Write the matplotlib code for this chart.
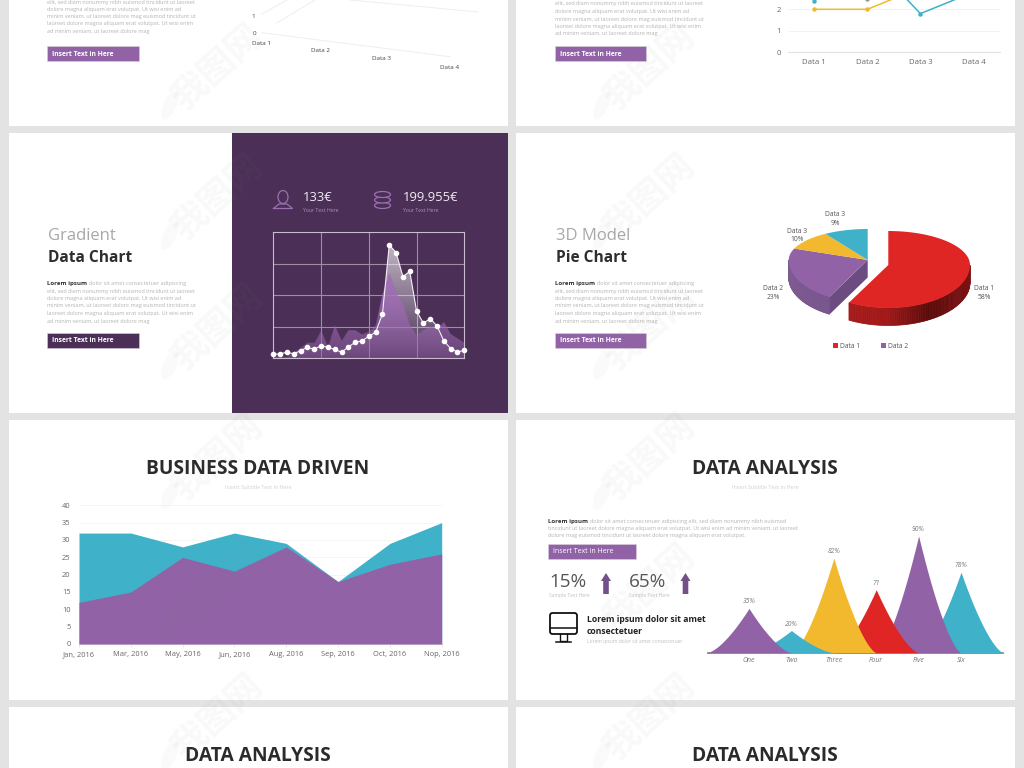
import matplotlib
matplotlib.use("Agg")
import matplotlib.pyplot as plt
import numpy as np
from matplotlib.colors import LinearSegmentedColormap, to_rgb
from matplotlib.patches import Ellipse, FancyBboxPatch, Polygon, Rectangle

plt.rcParams["font.family"] = ["Open Sans", "DejaVu Sans"]

PURPLE = "#9163a6"
TEAL = "#3fb1c9"
YELLOW = "#f2b92e"
RED = "#e02525"
DARK = "#4b2f56"
BODY = "#b4b4b4"

# area chart
area_months = ["Jan, 2016", "Mar, 2016", "May, 2016", "Jun, 2016",
               "Aug, 2016", "Sep, 2016", "Oct, 2016", "Nop, 2016"]
area_teal = [32, 32, 28, 32, 29, 18, 29, 35]
area_purple = [12, 15, 25, 21, 28, 18, 23, 26]

# gradient chart, 0-100 on the frame height
grad_white = [3.4, 3.4, 5, 3.4, 6.1, 8.7, 7.1, 10, 8.7, 7.1, 4.8, 9, 12.7, 13.8,
              17.5, 20.6, 35.2, 90, 83.9, 64.8, 69, 37.6, 27.8, 31.5, 25.7,
              13.8, 7.7, 5, 6.3]
grad_purple = [6.6, 1.3, 1.3, 5.3, 8.7, 12.7, 12.4, 22, 9.3, 26.2, 14, 22.5, 22.5,
               19, 21.2, 26.2, 51, 67.5, 51.6, 43.7, 26.5, 18.5, 22.5, 25, 23.8,
               28.8, 19.3, 15.9, 12.4]

# pie chart
pie_values = [58, 23, 10, 9]
pie_colors = [RED, PURPLE, YELLOW, TEAL]

# top right line chart
line_cats = ["Data 1", "Data 2", "Data 3", "Data 4"]
line_purple = [4.3, 2.5, 3.5, 4.5]
line_teal = [2.4, 4.4, 1.8, 2.8]
line_yellow = [2, 2, 3, 5]

# peak chart
peak_cats = ["One", "Two", "Three", "Four", "Five", "Six"]
peak_labels = ["35%", "20%", "82%", "71", "90%", "78%"]
peak_heights = [38, 19, 81, 54, 100, 69]
peak_colors = [PURPLE, TEAL, YELLOW, RED, PURPLE, TEAL]

LOREM_FIRST = "dolor sit amet consectetuer adipiscing"
LOREM_LINES = ["elit, sed diam nonummy nibh euismod tincidunt ut laoreet",
               "dolore magna aliquam erat volutpat. Ut wisi enim ad",
               "minim veniam, ut laoreet dolore mag euismod tincidunt ut",
               "laoreet dolore magna aliquam erat volutpat. Ut wisi enim",
               "ad minim veniam, ut laoreet dolore mag"]

fig = plt.figure(figsize=(10.24, 7.68), dpi=100, facecolor="#e3e3e3")
bg = fig.add_axes([0, 0, 1, 1])
bg.set_xlim(0, 1024)
bg.set_ylim(768, 0)
bg.axis("off")


def px_axes(x0, y0, x1, y1):
    ax = fig.add_axes([x0 / 1024, 1 - y1 / 768, (x1 - x0) / 1024, (y1 - y0) / 768])
    ax.patch.set_alpha(0)
    return ax


def label(x, y, s, size=5, color="#555555", ha="left", weight="normal", style="normal", ax=bg):
    # +1: open sans sits a bit high with va=center
    ax.text(x, y + 1, s, fontsize=size, color=color, ha=ha, va="center",
            fontweight=weight, fontstyle=style)


def panel(x0, y0, x1, y1, color="white"):
    bg.add_patch(Rectangle((x0, y0), x1 - x0, y1 - y0, fc=color, ec="none", zorder=0))


def button(x, y, w, text, color=PURPLE, weight="bold", size=4.9):
    bg.add_patch(Rectangle((x, y), w, 15, fc=color, ec="#d8d0dc", lw=0.4))
    label(x + 5, y + 7, text, size=size, color="white", weight=weight)


def gradient_fill(ax, xs, ys, color, top_alpha, bottom_alpha, y_top):
    rgb = to_rgb(color)
    img = np.zeros((128, 2, 4))
    img[..., :3] = rgb
    img[..., 3] = np.linspace(top_alpha, bottom_alpha, 128)[:, None]
    im = ax.imshow(img, extent=(min(xs), max(xs), 0, y_top), aspect="auto", origin="upper", zorder=2)
    poly = Polygon(list(zip(xs, ys)) + [(xs[-1], 0), (xs[0], 0)], closed=True,
                   transform=ax.transData, fc="none", ec="none")
    ax.add_patch(poly)
    im.set_clip_path(poly)


for (x0, x1) in [(9, 508), (516, 1015)]:
    for (y0, y1) in [(-5, 126), (133, 413), (420, 700), (707, 775)]:
        panel(x0, y0, x1, y1)
panel(232, 133, 508, 413, DARK)

# ---- slide text columns
for col, ys in [(47, [1.5, 8, 15.5, 22.5, 30]), (555, [3, 10.5, 18, 25.5, 33])]:
    for y, line in zip(ys, LOREM_LINES):
        label(col, y, line, size=4.0, color=BODY)
    button(col, 46, 92 if col == 47 else 91, "Insert Text in Here")

for col, head, sub, btn in [(48, "Gradient", "Data Chart", DARK), (556, "3D Model", "Pie Chart", PURPLE)]:
    label(col, 235, head, size=12, color="#a8a8a8")
    label(col, 257, sub, size=11.2, color="#2e2e2e", weight="bold")
    label(col - 1, 282, "Lorem ipsum", size=4.4, color="#333333", weight="bold")
    label(col + 41, 282, LOREM_FIRST, size=4.0, color=BODY)
    for y, line in zip([290, 297.5, 305, 312.5, 320], LOREM_LINES):
        label(col - 1, y, line, size=4.0, color=BODY)
    button(col - 1, 333, 92 if col == 48 else 91, "Insert Text in Here", color=btn)

# ---- top left, skewed 3d axis
for xs, ys in [((262, 450), (32.7, 56.7)), ((262, 287), (14, 0)), ((277, 315), (23, 0)), ((350, 478), (0, 12))]:
    bg.plot(xs, ys, color="#eeeeee", lw=0.7)
label(254, 32.5, "0", size=4.5, ha="center", color="#444444")
label(253, 15, "1", size=4.5, ha="center", color="#444444")
for x, y, s in zip([262, 320, 382, 450], [42.5, 50, 58, 66.5], line_cats):
    label(x, y, s, size=4.5, ha="center", color="#444444")

# ---- top right line chart
ax = px_axes(787.7, 0, 1000, 52.3)
ax.set_xlim(-0.5, 3.5)
ax.set_ylim(0, 52.3 / 21.5)
for vals, color in [(line_purple, "#999999"), (line_yellow, YELLOW), (line_teal, TEAL)]:
    ax.plot(range(4), vals, color=color, lw=1.1, marker="o", ms=2.2)
ax.set_xticks(range(4), line_cats)
ax.set_yticks([0, 1, 2])
ax.tick_params(length=0, labelsize=5.6, labelcolor="#666666", pad=5)
ax.grid(axis="y", color="#f1f1f1", lw=0.6)
ax.set_axisbelow(True)
for side in ["top", "left", "right"]:
    ax.spines[side].set_visible(False)
ax.spines["bottom"].set_color("#e2e2e2")

# ---- gradient chart
label(303, 196.5, "133€", size=9.4, color="#f0ecf2")
label(403, 196.5, "199.955€", size=9.4, color="#f0ecf2")
label(303, 209, "Your Text Here", size=3.7, color="#a696ae")
label(403, 209, "Your Text Here", size=3.7, color="#a696ae")
bg.add_patch(Ellipse((283, 197), 10, 13, fc="none", ec="#9c6fb0", lw=0.9))
bg.plot([273.5, 279, 287, 292.5, 273.5], [208.5, 204, 204, 208.5, 208.5], color="#9c6fb0", lw=0.9)
for y in [205.5, 200, 194.5]:
    bg.add_patch(Ellipse((382.5, y), 16, 6, fc=DARK, ec="#9c6fb0", lw=0.9))

ax = px_axes(273.3, 232.3, 464.3, 358.3)
n = len(grad_white)
xs = list(range(n))
gradient_fill(ax, xs, grad_white, "#ffffff", 0.72, 0.02, 100)
ax.fill_between(xs, grad_purple, color="#8a5a9e", alpha=0.42, lw=0, zorder=2)
gradient_fill(ax, xs, grad_purple, "#a670bd", 0.9, 0.1, 70)
ax.set_xlim(0, n - 1)
ax.set_ylim(0, 100)
ax.set_xticks([7, 14, 21])
ax.set_yticks([25, 50, 75])
ax.tick_params(length=0, labelbottom=False, labelleft=False)
ax.grid(color="#9f8da8", lw=0.8)
ax.set_axisbelow(True)
for s in ax.spines.values():
    s.set_color("#c9bdcf")
    s.set_linewidth(0.8)
ax.plot(xs, grad_white, color="#f4f0f6", lw=0.8, marker="o", ms=3, mfc="white", mec="white",
        clip_on=False, zorder=5)

# ---- pie chart
edges = np.cumsum([0] + pie_values) / sum(pie_values) * 360
centers = [(888.3, 265, 81.7, 34, 43)] + [(867.7, 260, 79, 31, 42)] * 3
DEPTH = 17.5
red_wall = LinearSegmentedColormap.from_list("rw", ["#b92020", "#a61a1a", "#a01818", "#5c0b0b", "#7d1212"])
purple_wall = LinearSegmentedColormap.from_list("pw", ["#6a4a80", "#7d5a92"])


def rim(cx, cy, rx, back, front, deg):
    a = np.radians(deg)
    ry = np.where(np.cos(a) > 0, back, front)
    return cx + rx * np.sin(a), cy - ry * np.cos(a)


for i in [1, 0]:
    cx, cy, rx, back, front = centers[i]
    start, stop = edges[i], edges[i + 1]
    steps = np.linspace(max(start, 90), min(stop, 270), 90)
    for a0, a1 in zip(steps[:-1], steps[1:]):
        x0, y0 = rim(cx, cy, rx, back, front, a0)
        x1, y1 = rim(cx, cy, rx, back, front, a1)
        frac = (x0 - (cx - rx)) / (2 * rx)
        col = red_wall(frac) if i == 0 else purple_wall(1 - frac)
        bg.add_patch(Polygon([(x0, y0), (x1, y1), (x1, y1 + DEPTH), (x0, y0 + DEPTH)],
                             fc=col, ec=col, lw=0.5, zorder=2))
    if i == 1:
        ex, ey = rim(cx, cy, rx, back, front, start)
        bg.add_patch(Polygon([(cx, cy), (ex, ey), (ex, ey + DEPTH), (cx, cy + DEPTH)],
                             fc="#6b4b80", ec="none", zorder=2))

for i, color in enumerate(pie_colors):
    cx, cy, rx, back, front = centers[i]
    arc = np.linspace(edges[i], edges[i + 1], 80)
    ox, oy = rim(cx, cy, rx, back, front, arc)
    bg.add_patch(Polygon([(cx, cy)] + list(zip(ox, oy)), fc=color, ec="none", zorder=3))

pie_text = [(984, 292, "Data 1\n58%"), (773, 292, "Data 2\n23%"), (797, 234.5, "Data 3\n10%"), (835, 218, "Data 3\n9%")]
for x, y, s in pie_text:
    bg.text(x, y + 1, s, fontsize=4.9, color="#555555", ha="center", va="center", linespacing=1.35)
bg.add_patch(Rectangle((833, 343), 4.5, 4.5, fc=RED, ec="none"))
label(840, 345, "Data 1", size=4.9)
bg.add_patch(Rectangle((881, 343), 4.5, 4.5, fc=PURPLE, ec="none"))
label(888, 345, "Data 2", size=4.9)

# ---- area chart
label(258, 468.5, "BUSINESS DATA DRIVEN", size=13.9, color="#2b2b2b", ha="center", weight="bold")
label(258, 486.5, "Insert Subtitle Text in Here", size=3.9, color="#cfcfcf", ha="center")
ax = px_axes(79, 505.3, 441.7, 644)
ax.fill_between(range(8), area_teal, color=TEAL, lw=0, zorder=2)
ax.fill_between(range(8), area_purple, color=PURPLE, lw=0, zorder=3)
ax.set_xlim(0, 7)
ax.set_ylim(0, 40)
ax.set_xticks(range(8), area_months)
ax.set_yticks(range(0, 41, 5))
ax.tick_params(axis="y", length=0, labelsize=5.4, labelcolor="#666666", pad=6)
ax.tick_params(axis="x", length=2, width=0.5, color="#dddddd", labelsize=5.4, labelcolor="#666666", pad=3)
ax.grid(axis="y", color="#f4f4f4", lw=0.6)
ax.set_axisbelow(True)
for side in ["top", "left", "right"]:
    ax.spines[side].set_visible(False)
ax.spines["bottom"].set_color("#dddddd")

# ---- peak chart slide
label(765, 468.5, "DATA ANALYSIS", size=13.9, color="#2b2b2b", ha="center", weight="bold")
label(765, 486.5, "Insert Subtitle Text in Here", size=3.9, color="#cfcfcf", ha="center")
label(548, 520, "Lorem ipsum", size=4.4, color="#333333", weight="bold")
label(590, 520, "dolor sit amet consectetuer adipiscing elit, sed diam nonummy nibh euismod", size=4.0, color=BODY)
label(548, 527.5, "tincidunt ut laoreet dolore magna aliquam erat volutpat. Ut wisi enim ad minim veniam, ut laoreet", size=4.0, color=BODY)
label(548, 535, "dolore mag euismod tincidunt ut laoreet dolore magna aliquam erat volutpat.", size=4.0, color=BODY)
button(548, 543.5, 88, "Insert Text in Here", weight="normal", size=5)
label(549, 581, "15%", size=13.6, color="#555555")
label(629, 581, "65%", size=13.6, color="#555555")
label(549, 595, "Sample Text Here", size=3.6, color="#c0c0c0")
label(629, 595, "Sample Text Here", size=3.6, color="#c0c0c0")
for x in [606, 685.5]:
    bg.add_patch(Polygon([(x - 5, 581), (x, 573), (x + 5, 581), (x + 2.8, 581), (x + 2.8, 594), (x - 2.8, 594), (x - 2.8, 581)],
                         fc="#74508a", ec="none"))
bg.add_patch(FancyBboxPatch((550, 613), 27, 21, boxstyle="round,pad=0,rounding_size=2.5", fc="none", ec="#111111", lw=1.3))
bg.plot([550, 577], [628, 628], color="#111111", lw=1.1)
bg.plot([560, 560, 567, 567], [634, 641, 641, 634], color="#111111", lw=1.0)
bg.plot([556, 571], [641.5, 641.5], color="#111111", lw=1.1)
label(587, 618, "Lorem ipsum dolor sit amet", size=6.2, color="#222222", weight="bold")
label(587, 630, "consectetuer", size=6.2, color="#222222", weight="bold")
label(587, 640, "Lorem ipsum dolor sit amet consectetuer", size=3.6, color="#c0c0c0")

ax = px_axes(708, 536, 1003, 652.7)
ax.set_xlim(-0.967, 5.99)
ax.set_ylim(0, 100)
t = np.linspace(-1, 1, 201)
for i in reversed(range(6)):
    # concave flanks, one category wide on each side
    ax.fill_between(i + t, peak_heights[i] * (1 - np.abs(t)) ** 1.5, color=peak_colors[i], lw=0, zorder=2 + 6 - i)
    ax.text(i, peak_heights[i] + 2.5, peak_labels[i], fontsize=4.9, color="#777777",
            ha="center", va="bottom", fontstyle="italic", clip_on=False)
ax.set_xticks(range(6), peak_cats)
ax.set_yticks([])
ax.tick_params(axis="x", length=0, labelsize=5, labelcolor="#777777", pad=3)
for lab in ax.get_xticklabels():
    lab.set_fontstyle("italic")
for side in ["top", "left", "right"]:
    ax.spines[side].set_visible(False)
ax.spines["bottom"].set_color("#8a8a8a")
ax.spines["bottom"].set_linewidth(1.3)

# ---- cut off titles at the bottom
label(258, 755, "DATA ANALYSIS", size=13.9, color="#2b2b2b", ha="center", weight="bold")
label(765, 755, "DATA ANALYSIS", size=13.9, color="#2b2b2b", ha="center", weight="bold")

# ---- watermark
top = fig.add_axes([0, 0, 1, 1])
top.set_xlim(0, 1024)
top.set_ylim(768, 0)
top.axis("off")
top.patch.set_alpha(0)
for cx in [218, 650]:
    for cy in [75, 205, 335, 465, 595, 725]:
        top.text(cx, cy - 8, "我图网", fontsize=26, family=["Noto Sans CJK SC", "DejaVu Sans"],
                 fontweight="bold", color="#8a8a8a", alpha=0.05, rotation=42,
                 ha="center", va="center", rotation_mode="anchor")
        top.add_patch(Ellipse((cx - 48, cy + 30), 13, 32, angle=25, fc="#8a8a8a", alpha=0.04, ec="none"))

fig.savefig("out.png", dpi=100, facecolor=fig.get_facecolor())
